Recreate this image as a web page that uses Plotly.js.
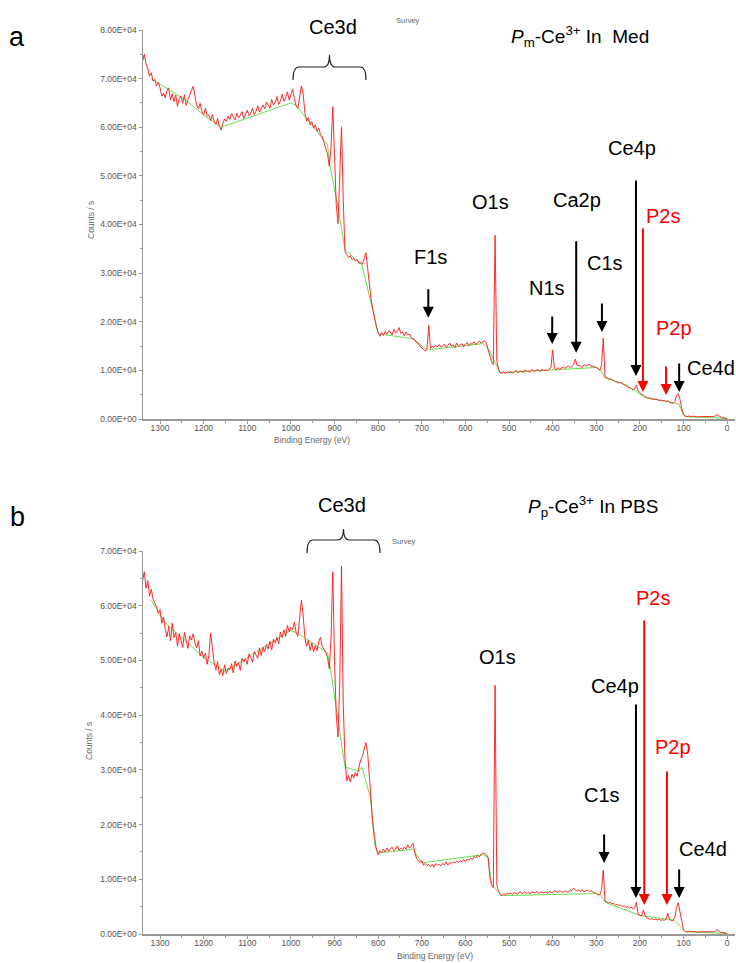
<!DOCTYPE html>
<html>
<head>
<meta charset="utf-8">
<script src="https://cdn.plot.ly/plotly-3.0.1.min.js"></script>
<style>html,body{margin:0;padding:0;background:#fff;}#chart{width:736px;height:963px;}</style>
</head>
<body>
<div id="chart"></div>
<script>
// Binding energy grid (eV), shared by both survey spectra
const energy = [
1340,1336,1332,1328,1324,1320,1316,1312,1308,1304,
1300,1296,1292,1288,1284,1280,1276,1272,1268,1264,
1260,1256,1252,1248,1244,1240,1236,1232,1228,1224,
1220,1216,1212,1208,1204,1200,1196,1192,1188,1184,
1180,1176,1172,1168,1164,1160,1156,1152,1148,1144,
1140,1136,1132,1128,1124,1120,1116,1112,1108,1104,
1100,1096,1092,1088,1084,1080,1076,1072,1068,1064,
1060,1056,1052,1048,1044,1040,1036,1032,1028,1024,
1020,1016,1012,1008,1004,1000,996,992,988,984,
980,976,972,968,964,960,956,952,948,944,
940,936,932,928,924,920,916,912,908,904,
900,896,892,888,884,880,876,872,868,864,
860,856,852,848,844,840,836,832,828,824,
820,816,812,808,804,800,796,792,788,784,
780,776,772,768,764,760,756,752,748,744,
740,736,732,728,724,720,716,712,708,704,
700,696,692,688,684,680,676,672,668,664,
660,656,652,648,644,640,636,632,628,624,
620,616,612,608,604,600,596,592,588,584,
580,576,572,568,564,560,556,552,548,544,
540,536,532,528,524,520,516,512,508,504,
500,496,492,488,484,480,476,472,468,464,
460,456,452,448,444,440,436,432,428,424,
420,416,412,408,404,400,396,392,388,384,
380,376,372,368,364,360,356,352,348,344,
340,336,332,328,324,320,316,312,308,304,
300,296,292,288,284,280,276,272,268,264,
260,256,252,248,244,240,236,232,228,224,
220,216,212,208,204,200,196,192,188,184,
180,176,172,168,164,160,156,152,148,144,
140,136,132,128,124,120,116,112,108,104,
100,96,92,88,84,80,76,72,68,64,
60,56,52,48,44,40,36,32,28,24,
20,16,12,8,4,0];

// Panel a: Pm-Ce3+ in Med, counts / s
const countsMed = [
73500,75000,73000,72000,70500,71200,69500,69800,68500,69200,
68200,66400,67000,66100,67600,68100,65600,66900,65300,66600,
64300,65900,66400,64900,66700,64500,65600,66800,67600,68400,
66800,64600,63800,64900,63300,62600,63900,62300,62500,61400,
62600,61200,60600,61800,60200,59400,60800,61700,61200,62300,
61600,62800,62100,61500,62900,61900,62500,63200,61800,62700,
63500,62400,62900,63900,62600,63300,64400,63100,63700,64600,
63800,65200,64500,63900,65700,64600,65100,66300,64700,65400,
66800,65300,66100,67300,65600,66700,67800,65900,64400,63900,
66000,68500,67000,63000,61200,62000,60500,61200,59800,60500,
59200,59800,58500,58000,56800,55800,54500,52000,56000,64200,
52000,44000,40200,49000,60000,45000,34500,33800,33200,33600,
32800,33000,32500,32800,32000,32200,31800,33000,34200,31000,
27000,24500,22500,20500,19000,17800,17000,17800,17200,18000,
17400,18100,17900,17300,18400,17700,18000,18800,17600,17900,
17100,17900,17300,17500,16700,16400,16300,15700,15600,14900,
14600,14400,14000,14500,19300,14500,15000,14700,15200,14800,
15300,14800,15000,15400,14700,15200,15600,15000,15200,14700,
15600,15100,15200,15500,14900,15400,15700,15100,15500,15400,
15900,15300,15700,16000,15600,15800,16100,15600,14200,12800,
11800,11200,37800,12000,10200,9500,9400,9800,9300,9700,
9600,9800,9400,9700,10000,9500,9800,9900,9500,10100,
9800,9900,9600,10200,9900,9800,10200,10000,9800,10300,
9900,10100,10000,10300,10500,14200,10400,10100,10600,10200,
10500,10700,10400,10600,10900,10600,10800,11200,12300,11000,
10900,10900,10600,11200,10900,11000,11300,10800,10900,10700,
10600,10400,10000,11000,16600,8600,8500,8200,8300,8000,
7900,7700,7600,7400,7500,7200,7000,6800,6600,6500,
6300,6000,6200,7000,5800,5400,5000,4900,4600,4400,
4300,4200,4100,4000,4100,3900,3800,3900,3700,3800,
3600,3800,3400,3300,3200,3600,4800,5200,4000,2200,
1000,600,500,600,500,500,600,500,400,500,
500,400,400,500,400,400,400,500,600,900,
700,400,300,200,200,100];

// Panel b: Pp-Ce3+ in PBS, counts / s
const countsPBS = [
64500,66200,63200,64600,61800,63000,61200,60500,59800,58600,
59300,56800,57900,55700,54300,56200,53600,56800,54200,55100,
52600,54900,53800,52400,55100,53400,52200,54500,53700,54900,
53200,52300,53600,50800,51700,50400,51300,49300,50900,55000,
52200,49600,48300,49800,47400,48400,47200,49200,47600,48600,
48300,49400,47700,49900,48900,49600,48200,50400,49700,50300,
49300,51200,50500,49700,51600,51100,50400,52300,50900,52400,
51600,52900,52100,53500,51900,53900,53200,54200,53000,55200,
54200,55600,54400,56400,55300,56100,55600,57000,55100,54400,
57200,61000,58300,54200,52600,53700,51800,53200,51600,52700,
51800,53500,54200,52500,52000,51500,50500,48500,54000,66200,
50000,40000,36000,46000,67200,42000,32000,28000,29000,27800,
29200,28500,29500,28800,30500,31800,32500,33800,35000,33000,
28500,24000,20000,17500,15500,14500,15200,14800,15500,15000,
15700,15100,15600,15900,15200,15500,16100,15300,15700,15400,
15900,15500,16300,15700,16100,16600,15000,13800,13400,13100,
13400,12600,12900,12500,12700,12300,12700,12200,12900,12600,
12700,12500,12900,12600,13200,12600,13100,12900,13200,13000,
13300,13100,13400,13200,13600,13200,13700,13500,13900,13600,
14200,13900,14400,14100,14600,14800,14700,14500,14000,10500,
9000,8500,45500,9000,7800,7200,7000,7400,7100,7500,
7300,7500,7200,7600,7400,7300,7700,7500,7400,7700,
7400,7600,7300,7700,7600,7500,7800,7400,7700,7600,
7500,7700,7400,7800,7600,7500,7900,7700,7600,7900,
7700,7600,7900,7800,7600,8100,7900,8400,8000,7800,
8000,7800,8100,7700,7900,8000,7800,7900,7700,7600,
7400,7100,7200,8000,11700,6000,5800,5700,5800,5500,
5600,5300,5400,5200,5300,5000,5200,4900,5000,4700,
4900,4600,4800,5800,3600,3400,3300,4400,3300,2900,
2800,2700,2800,2600,2700,2600,2700,2500,2600,2500,
2700,3800,2700,2400,2500,3000,4800,5700,4000,2000,
800,500,400,500,400,400,500,400,300,400,
400,300,400,300,400,300,400,400,500,800,
600,300,300,200,200,100];

// Fitted backgrounds (green)
const bgMedEnergy = [1320,1240,1200,1160,1000,988,916,910,892,876,837,818,800,790,720,688,560,548,520,500,300,290,280,230,200,190,120,110,100,96,0];
const bgMedCounts = [70000,65500,62500,60000,65000,64500,56400,51900,43600,34800,31700,24500,17600,17400,16500,14200,15500,14500,9500,9600,10600,10000,8500,7000,5200,4500,3300,3000,800,500,100];
const bgPBSEnergy = [1320,1290,1240,1200,1150,1000,985,916,910,899,876,844,837,818,807,800,720,700,560,548,540,516,300,290,280,200,120,100,96,0];
const bgPBSCounts = [61000,57000,53500,50500,48000,55500,55000,51400,48800,42800,30500,29800,30500,25000,16000,14800,15500,13000,14500,14000,9000,7000,7400,7200,5800,3400,2500,800,400,100];

// Axis tick labels
const xTickVals = [1300,1200,1100,1000,900,800,700,600,500,400,300,200,100,0];
const xTickText = ['1300','1200','1100','1000','900','800','700','600','500','400','300','200','100','0'];
const yTickValsA = [0,10000,20000,30000,40000,50000,60000,70000,80000];
const yTickTextA = ['0.00E+00','1.00E+04','2.00E+04','3.00E+04','4.00E+04','5.00E+04','6.00E+04','7.00E+04','8.00E+04'];
const yTickValsB = [0,10000,20000,30000,40000,50000,60000,70000];
const yTickTextB = ['0.00E+00','1.00E+04','2.00E+04','3.00E+04','4.00E+04','5.00E+04','6.00E+04','7.00E+04'];

// Peak markers: [label, energy, counts at arrow tip, arrow length px, colour]
const arrowsMed = [
  ['F1s', 685, 20800, 30, '#000'],
  ['N1s', 401, 15400, 29, '#000'],
  ['Ca2p', 346, 13600, 113, '#000'],
  ['C1s', 287, 17900, 30, '#000'],
  ['Ce4p', 209, 8850, 197, '#000'],
  ['P2s', 193, 5560, 165, '#f00'],
  ['P2p', 140, 4940, 30, '#f00'],
  ['Ce4d', 110, 5560, 30, '#000']
];
const arrowsPBS = [
  ['C1s', 282, 12980, 30, '#000'],
  ['Ce4p', 209, 6580, 195, '#000'],
  ['P2s', 190, 5300, 286, '#f00'],
  ['P2p', 138, 5300, 135, '#f00'],
  ['Ce4d', 110, 6580, 30, '#000']
];

if (countsMed.length !== energy.length || countsPBS.length !== energy.length) {
  throw new Error('length mismatch ' + energy.length + ' ' + countsMed.length + ' ' + countsPBS.length);
}

const W = 736, H = 963;
const px = v => v / W;
const py = v => 1 - v / H;
const FONT = 'Liberation Sans, Arial, sans-serif';
const RED = 'rgb(255,20,20)';
const GREEN = 'rgb(100,228,80)';

const traces = [
  {x: bgMedEnergy, y: bgMedCounts, xaxis: 'x', yaxis: 'y', mode: 'lines', line: {color: GREEN, width: 1}},
  {x: energy, y: countsMed, xaxis: 'x', yaxis: 'y', mode: 'lines', line: {color: RED, width: 0.9}},
  {x: bgPBSEnergy, y: bgPBSCounts, xaxis: 'x2', yaxis: 'y2', mode: 'lines', line: {color: GREEN, width: 1}},
  {x: energy, y: countsPBS, xaxis: 'x2', yaxis: 'y2', mode: 'lines', line: {color: RED, width: 0.9}}
];

const tickFont = {family: FONT, size: 8.5, color: '#555'};
const xBase = {
  domain: [px(143), px(735)], range: [1339, -18], tickvals: xTickVals, ticktext: xTickText,
  showline: true, linecolor: '#999', linewidth: 1.5, ticks: 'outside', ticklen: 3, tickcolor: '#999',
  ticklabelstandoff: -3,
  minor: {dtick: 50, tick0: 0, ticks: 'outside', ticklen: 2, tickcolor: '#999'},
  showgrid: false, zeroline: false, tickfont: tickFont, fixedrange: true
};
const yBase = {
  showline: true, linecolor: '#999', linewidth: 1.5, ticks: 'outside', ticklen: 3, tickcolor: '#999',
  minor: {dtick: 5000, tick0: 0, ticks: 'outside', ticklen: 2, tickcolor: '#999'},
  showgrid: false, zeroline: false, tickfont: tickFont, fixedrange: true
};

const annotations = [];
function txt(text, x, y, size, color, opts) {
  annotations.push(Object.assign({text: text, x: px(x), y: py(y), xref: 'paper', yref: 'paper',
    showarrow: false, xanchor: 'center', yanchor: 'middle', font: {family: FONT, size: size, color: color}}, opts || {}));
}
function arrows(list, xr, yr) {
  list.forEach(a => annotations.push({x: a[1], y: a[2], xref: xr, yref: yr, text: '', showarrow: true,
    ax: 0, ay: -a[3], arrowhead: 2, arrowsize: 1.1, arrowwidth: 2, arrowcolor: a[4]}));
}
arrows(arrowsMed, 'x', 'y');
arrows(arrowsPBS, 'x2', 'y2');

// panel a labels
txt('a', 17, 37, 27, '#000');
txt('Ce3d', 333, 27, 20, '#000');
txt('Survey', 408, 20, 7.5, '#666');
txt('<i>P</i><sub>m</sub>-Ce<sup>3+</sup> In  Med', 580, 37, 19, '#000');
txt('O1s', 490, 202, 20, '#000');
txt('F1s', 430, 257, 20, '#000');
txt('N1s', 547, 288, 20, '#000');
txt('Ca2p', 577, 200, 20, '#000');
txt('C1s', 605, 263, 20, '#000');
txt('Ce4p', 632, 148, 20, '#000');
txt('P2s', 663, 216, 20, '#f00');
txt('P2p', 674, 328, 20, '#f00');
txt('Ce4d', 711, 368, 20, '#000');
txt('Counts / s', 91, 220, 8.5, '#666', {textangle: -90});
txt('Binding Energy (eV)', 312, 440, 8.5, '#666');
// panel b labels
txt('b', 17, 517, 27, '#000');
txt('Ce3d', 342, 505, 20, '#000');
txt('Survey', 404, 541, 7.5, '#666');
txt('<i>P</i><sub>p</sub>-Ce<sup>3+</sup> In PBS', 593, 507, 19, '#000');
txt('O1s', 498, 657, 20, '#000');
txt('Ce4p', 615, 686, 20, '#000');
txt('P2s', 653, 598, 20, '#f00');
txt('P2p', 673, 747, 20, '#f00');
txt('C1s', 602, 795, 20, '#000');
txt('Ce4d', 703, 849, 20, '#000');
txt('Counts / s', 89, 741, 8.5, '#666', {textangle: -90});
txt('Binding Energy (eV)', 435, 956, 8.5, '#666');

function brace(x0, x1, yTop, yEnd, yTip) {
  const xm = (x0 + x1) / 2, r = 6;
  const p = (x, y) => px(x).toFixed(5) + ',' + py(y).toFixed(5);
  return 'M' + p(x0, yEnd) + ' Q' + p(x0, yTop) + ' ' + p(x0 + r, yTop) + ' L' + p(xm - r, yTop) +
    ' Q' + p(xm, yTop) + ' ' + p(xm, yTip) + ' Q' + p(xm, yTop) + ' ' + p(xm + r, yTop) +
    ' L' + p(x1 - r, yTop) + ' Q' + p(x1, yTop) + ' ' + p(x1, yEnd);
}
const shapes = [
  {type: 'path', xref: 'paper', yref: 'paper', path: brace(293, 366, 67, 80, 55), line: {color: '#222', width: 1.2}},
  {type: 'path', xref: 'paper', yref: 'paper', path: brace(307, 380, 540, 553, 529), line: {color: '#222', width: 1.2}}
];

const layout = {
  width: W, height: H, margin: {l: 0, r: 0, t: 0, b: 0}, showlegend: false,
  paper_bgcolor: '#fff', plot_bgcolor: '#fff', font: {family: FONT},
  xaxis: Object.assign({}, xBase, {anchor: 'y'}),
  xaxis2: Object.assign({}, xBase, {anchor: 'y2'}),
  yaxis: Object.assign({}, yBase, {anchor: 'x', domain: [py(419), py(30)], range: [0, 80000], tickvals: yTickValsA, ticktext: yTickTextA}),
  yaxis2: Object.assign({}, yBase, {anchor: 'x2', domain: [py(934), py(551)], range: [0, 70000], tickvals: yTickValsB, ticktext: yTickTextB}),
  annotations: annotations, shapes: shapes
};
Plotly.newPlot('chart', traces, layout, {staticPlot: true, displayModeBar: false});
</script>
</body>
</html>
